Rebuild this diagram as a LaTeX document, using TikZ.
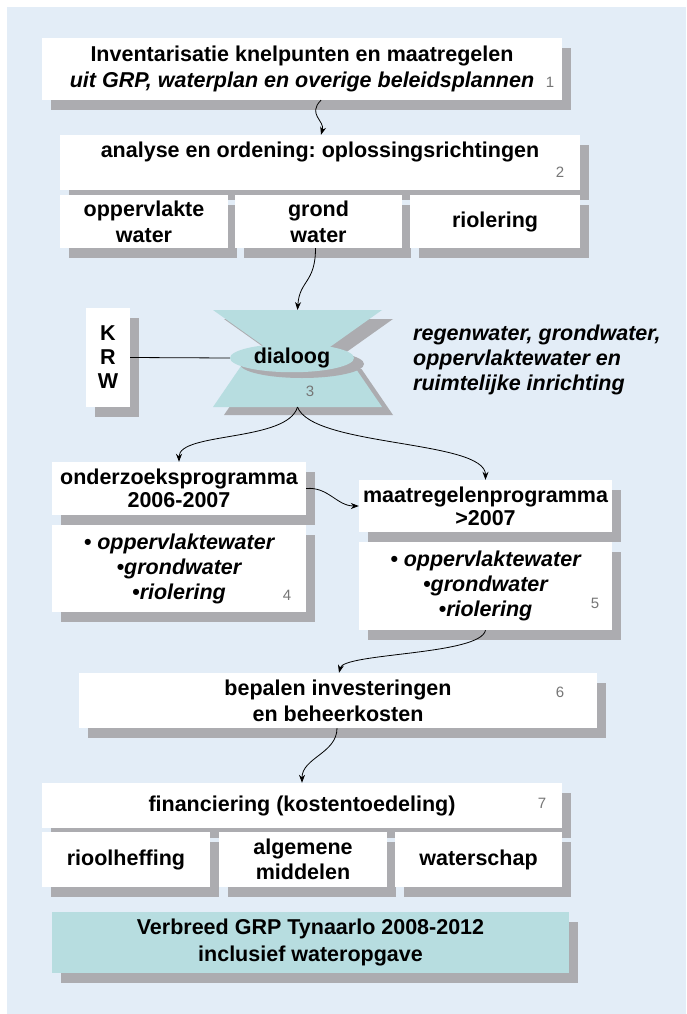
\documentclass[tikz,border=0pt]{standalone}
\usepackage{fontspec}
\setmainfont{Liberation Sans}
\frenchspacing
\usetikzlibrary{arrows.meta,shadows,shapes.geometric}
\definecolor{bgblue}{RGB}{227,237,247}
\definecolor{tealbox}{RGB}{183,221,224}
\definecolor{shgray}{RGB}{172,172,176}
\definecolor{numgray}{RGB}{118,118,118}
\begin{document}
\begin{tikzpicture}[x=1pt,y=-1pt,
  bigfont/.style={font=\bfseries\fontsize{21.5}{26}\selectfont},
  box/.style={fill=white,inner sep=0pt,align=center,bigfont,
    drop shadow={shadow xshift=9pt,shadow yshift=-10pt,fill=shgray,opacity=1}},
  num/.style={font=\fontsize{15}{15}\selectfont,text=numgray,inner sep=0pt},
  txt/.style={bigfont,inner sep=0pt,align=center},
  conn/.style={-{Stealth[length=8pt,width=6pt]},line width=0.8pt}
]
\useasboundingbox (0,0) rectangle (686,1014);
\fill[white] (0,0) rectangle (686,1014);
\fill[bgblue] (7,7) rectangle (686,1014);

% box 1
\node[box,minimum width=520pt,minimum height=62pt] (b1) at (302,69)
  {Inventarisatie knelpunten en maatregelen\\\textit{uit GRP, waterplan en overige beleidsplannen}};
\node[num] (n1) at (550,82) {1};

% box 2
\node[box,minimum width=520pt,minimum height=55pt] (b2) at (320,162.5) {};
\node[txt] (b2t) at (320,152) {analyse en ordening: oplossingsrichtingen};
\node[num] (n2) at (560,172) {2};

% row
\node[box,minimum width=168pt,minimum height=53pt] (ra) at (144,221.5) {oppervlakte\\water};
\node[box,minimum width=167pt,minimum height=53pt] (rb) at (318.5,221.5) {grond\\water};
\node[box,minimum width=170pt,minimum height=53pt] (rc) at (495,221.5) {riolering};

% hourglass
\coordinate (hgtop) at (297.5,310);
\coordinate (hgbot) at (297.5,407);
\fill[shgray] (224,319) -- (393,319) -- (308.5,379) -- cycle;
\fill[shgray] (224,415) -- (393,415) -- (361.5,369) -- (255.5,369) -- cycle;
\fill[tealbox] (213,407) -- (382,407) -- (350.5,361) -- (244.5,361) -- cycle;
\fill[tealbox] (213,310) -- (382,310) -- (297.5,370) -- cycle;
\fill[shgray] (302,364) ellipse [x radius=62, y radius=14];
\node[ellipse,fill=tealbox,minimum width=124pt,minimum height=28pt,inner sep=0pt,bigfont] (dlg) at (292,358) {dialoog};
\node[num] (n3) at (310,391) {3};

% KRW
\node[box,minimum width=44pt,minimum height=99pt,font=\bfseries\fontsize{21.5}{24}\selectfont] (krw) at (108,357.5) {K\\R\\W};
\draw[line width=0.8pt] (krw.east) -- (dlg.west);

\node[inner sep=0pt,anchor=west,align=left,font=\bfseries\itshape\fontsize{21.5}{25}\selectfont] (rt) at (413,360)
  {regenwater, grondwater,\\oppervlaktewater en\\ruimtelijke inrichting};

% box 4
\node[box,minimum width=254pt,minimum height=53pt,font=\bfseries\fontsize{21.5}{23}\selectfont] (b4a) at (179,488.5) {onderzoeksprogramma\\2006-2007};
\node[box,minimum width=254pt,minimum height=87pt,font=\bfseries\itshape\fontsize{21.5}{25}\selectfont] (b4b) at (179,568.5)
  {• oppervlaktewater\\•grondwater\\•riolering};
\node[num] (n4) at (287,595) {4};

% box 5
\node[box,minimum width=253pt,minimum height=52pt,font=\bfseries\fontsize{21.5}{23}\selectfont] (b5a) at (485.5,506) {maatregelenprogramma\\>2007};
\node[box,minimum width=253pt,minimum height=88pt,font=\bfseries\itshape\fontsize{21.5}{25}\selectfont] (b5b) at (485.5,586)
  {• oppervlaktewater\\•grondwater\\•riolering};
\node[num] (n5) at (595,603) {5};

% box 6
\node[box,minimum width=518pt,minimum height=55pt] (b6) at (338,700.5) {bepalen investeringen\\en beheerkosten};
\node[num] (n6) at (560,692) {6};

% box 7
\node[box,minimum width=520pt,minimum height=45pt] (b7) at (302,805.5) {financiering (kostentoedeling)};
\node[num] (n7) at (542,803) {7};

\node[box,minimum width=168pt,minimum height=55pt] (rh) at (126,859.5) {rioolheffing};
\node[box,minimum width=168pt,minimum height=55pt,font=\bfseries\fontsize{21.5}{25}\selectfont] (am) at (303,859.5) {algemene\\middelen};
\node[box,minimum width=167pt,minimum height=55pt] (ws) at (478.5,859.5) {waterschap};

% final box
\node[box,fill=tealbox,minimum width=517pt,minimum height=61pt,font=\bfseries\fontsize{21.5}{27}\selectfont] (vb) at (310.5,942.5)
  {Verbreed GRP Tynaarlo 2008-2012\\inclusief wateropgave};

% connectors
\draw[conn] ([xshift=19pt]b1.south) .. controls +(-14,14) and +(4,-14) .. ([xshift=1pt]b2.north);
\draw[conn] ([xshift=-3pt]rb.south) .. controls +(0,35) and +(2,-30) .. (hgtop);
\draw[conn] (hgbot) .. controls +(-10,35) and +(0,-30) .. (b4a.north);
\draw[conn] (hgbot) .. controls +(15,40) and +(0,-40) .. (b5a.north);
\draw[conn] (b4a.east) .. controls +(22,-2) and +(-22,0) .. (b5a.west);
\draw[conn] (b5b.south) .. controls +(-5,25) and +(5,-20) .. ([xshift=1pt]b6.north);
\draw[conn] ([xshift=-1pt]b6.south) .. controls +(0,25) and +(0,-25) .. (b7.north);
\end{tikzpicture}
\end{document}
